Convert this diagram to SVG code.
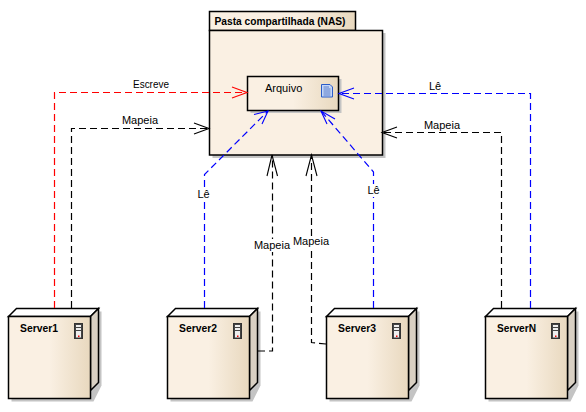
<svg xmlns="http://www.w3.org/2000/svg" width="586" height="412" viewBox="0 0 586 412">
<style>
text{font-family:"Liberation Sans",Arial,sans-serif;font-size:11px;fill:#000}
.b{font-weight:bold}
.l{text-anchor:middle}
.o{stroke:#000;stroke-width:1.5;stroke-linejoin:miter}
.sh{fill:#c4c4c4}
.c{fill:none;stroke-width:1.2;stroke-dasharray:7 4}
.k{stroke:#000}.r{stroke:#f00}.u{stroke:#00f}
.a{fill:none;stroke-width:1.1}
</style>
<defs>
<linearGradient id="g" x1="0" y1="0" x2="1" y2="0"><stop offset="0" stop-color="#faf0e3"/><stop offset=".5" stop-color="#faf0e3"/><stop offset="1" stop-color="#e8d8be"/></linearGradient>
<linearGradient id="t" x1="0" y1="0" x2="1" y2="0"><stop offset="0" stop-color="#faf0e3"/><stop offset=".6" stop-color="#faf0e3"/><stop offset="1" stop-color="#e8d8be"/></linearGradient>
<g id="srv">
<path class="sh" d="M3 11L11 3H93V77L85 93H3Z"/>
<path d="M0 8L8 0H90L82 8Z" fill="#fff" class="o"/>
<path d="M82 8L90 0V74L82 82Z" fill="#d9d0c3" class="o"/>
<rect x="0" y="8" width="82" height="82" fill="url(#g)" class="o"/>
<rect x="66" y="15" width="8" height="15" fill="#444" stroke="#333"/>
<rect x="67.500" y="16.500" width="5" height="2" fill="#eee"/>
<rect x="67.500" y="19.500" width="5" height="2" fill="#eee"/>
<rect x="67.500" y="22.500" width="5" height="6.500" fill="#eee"/>
<rect x="69.500" y="27" width="1.500" height="1.500" fill="#e00"/>
</g>
</defs>
<g id="pasta">
<rect x="212.500" y="33" width="173" height="125" class="sh"/>
<rect x="209.500" y="11.500" width="146" height="19" fill="url(#t)" class="o"/>
<rect x="209.500" y="30.500" width="173" height="124.500" fill="#faf0e3" class="o"/>
<text x="214.500" y="24.500" class="b" textLength="131" lengthAdjust="spacingAndGlyphs">Pasta compartilhada (NAS)</text>
</g>
<g id="arquivo">
<rect x="250.500" y="79" width="91" height="34" class="sh"/>
<rect x="247.500" y="76.500" width="91" height="34" fill="url(#g)" class="o"/>
<text x="265" y="92">Arquivo</text>
<path d="M321.500 84.500H330L332.500 87V97H321.500Z" fill="#c4d6f8" stroke="#2a5cc8"/>
<path d="M323.500 87H329M323.500 89H330.500M323.500 91H330.500M323.500 93H330.500M323.500 95H330.500" stroke="#3f66bb" stroke-width=".8"/>
</g>
<g id="server1"><use href="#srv" x="8.500" y="308.500"/><text x="20" y="332" class="b" textLength="38" lengthAdjust="spacingAndGlyphs">Server1</text></g>
<g id="server2"><use href="#srv" x="167.500" y="308.500"/><text x="179" y="332" class="b" textLength="38" lengthAdjust="spacingAndGlyphs">Server2</text></g>
<g id="server3"><use href="#srv" x="326.500" y="308.500"/><text x="338" y="332" class="b" textLength="38" lengthAdjust="spacingAndGlyphs">Server3</text></g>
<g id="serverN"><use href="#srv" x="485.500" y="308.500"/><text x="497" y="332" class="b" textLength="39" lengthAdjust="spacingAndGlyphs">ServerN</text></g>
<g id="connectors">
<path class="c r" d="M54.500 308V92.500H247"/>
<path class="a r" d="M232 87L247 92.500L232 98"/>
<path class="c k" d="M71.500 308V128.500H209"/>
<path class="a k" d="M194 123L209 128.500L194 134"/>
<path class="c u" d="M204.500 308V174.500L268 111"/>
<path class="a u" d="M254 114.500L268 111L262 124"/>
<path class="c k" d="M258 351H272.500V155"/>
<path class="a k" d="M267 176L272 155L277.500 176"/>
<path class="c k" d="M326 344L311.500 342.500V155"/>
<path class="a k" d="M306 176L311.500 155L317 176"/>
<path class="c u" d="M373.500 308V172L321 111"/>
<path class="a u" d="M327 124L321 111L335 119"/>
<path class="c k" d="M501.500 308V132.500H382"/>
<path class="a k" d="M397 127L382 132.500L397 138"/>
<path class="c u" d="M530.500 308V93.500H338"/>
<path class="a u" d="M354 88L339 93.500L354 99"/>
</g>
<g id="labels">
<rect x="196" y="188" width="16" height="13" fill="#fff"/>
<rect x="366" y="184" width="16" height="13" fill="#fff"/>
<rect x="253" y="239" width="38" height="13" fill="#fff"/>
<rect x="293" y="236" width="37" height="13" fill="#fff"/>
<text x="133" y="88" textLength="36" lengthAdjust="spacingAndGlyphs">Escreve</text>
<text x="140" y="124" class="l">Mapeia</text>
<text x="203.500" y="198" class="l">Lê</text>
<text x="373.500" y="194" class="l">Lê</text>
<text x="272" y="249" class="l">Mapeia</text>
<text x="311" y="245" class="l">Mapeia</text>
<text x="435" y="90" class="l">Lê</text>
<text x="442" y="129" class="l">Mapeia</text>
</g>
</svg>
